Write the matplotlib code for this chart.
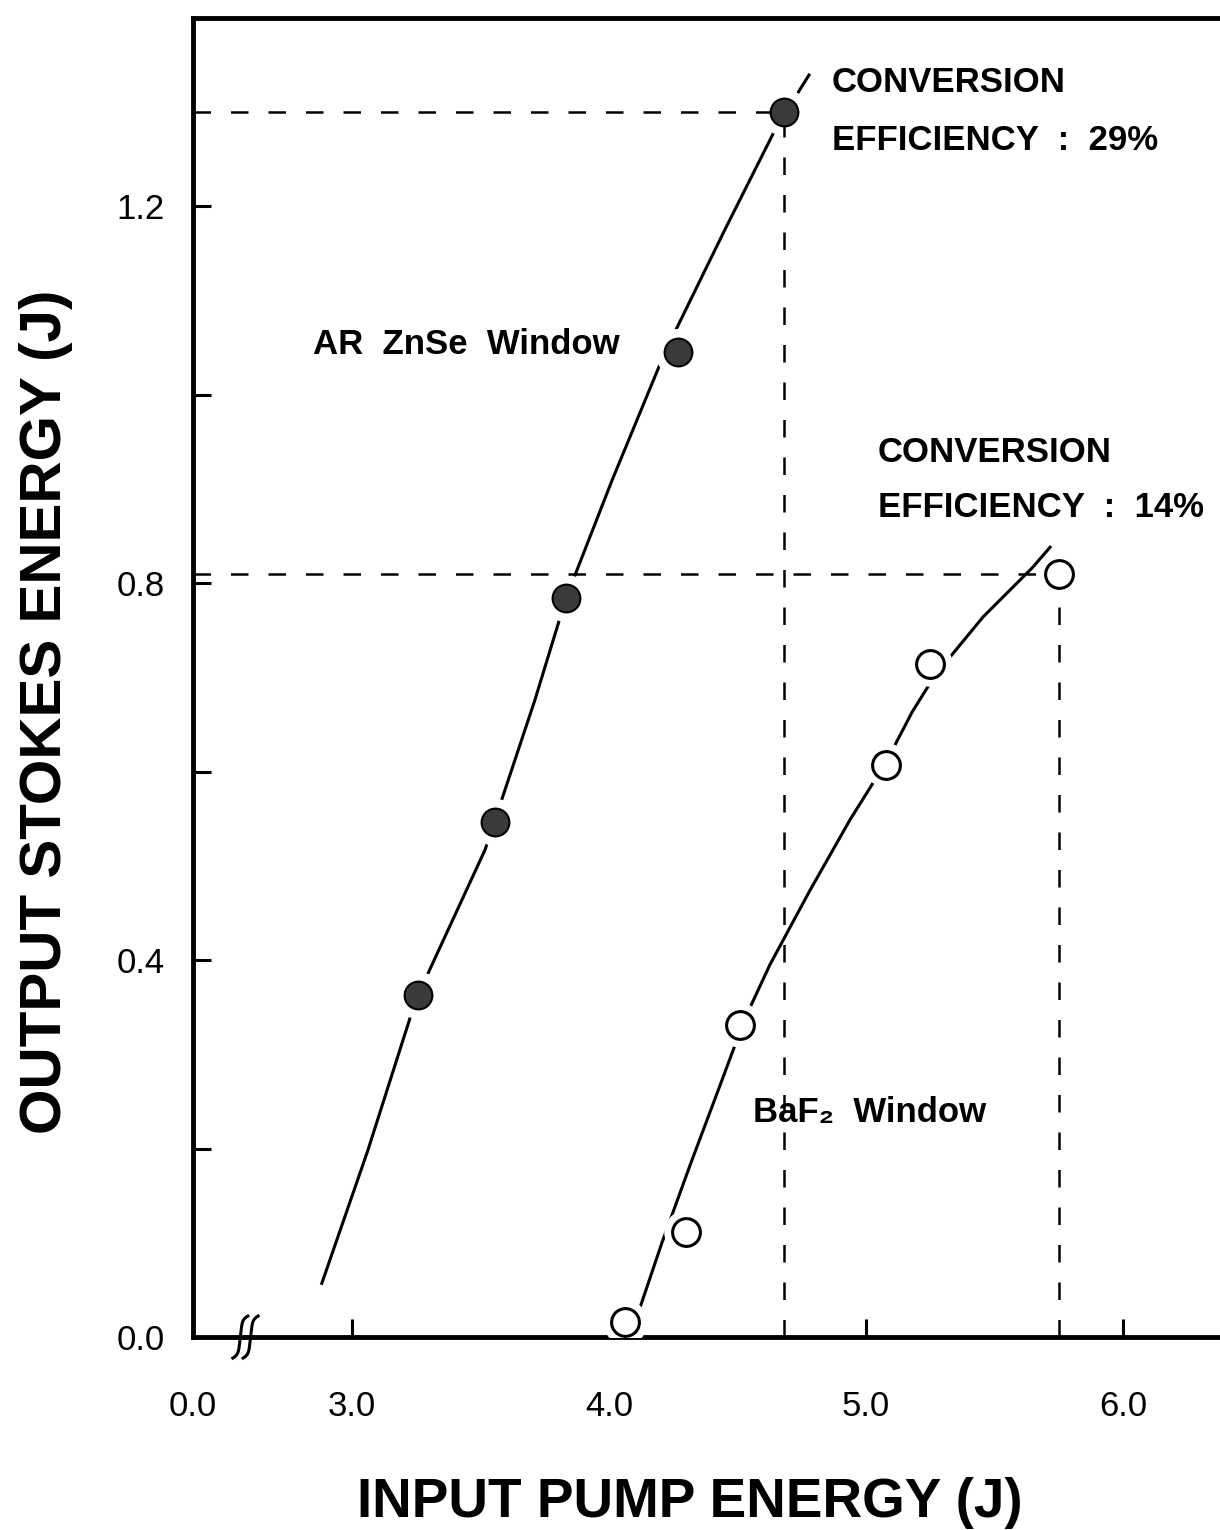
import numpy as np
import matplotlib.pyplot as plt

plt.rcParams['font.family'] = ['Liberation Sans', 'DejaVu Sans']

# measured points (J)
znse_in = [3.257, 3.556, 3.833, 4.268, 4.68]
znse_out = [0.363, 0.546, 0.784, 1.045, 1.30]
baf2_in = [4.062, 4.300, 4.510, 5.078, 5.249, 5.75]
baf2_out = [0.016, 0.111, 0.331, 0.607, 0.714, 0.81]

# hand-drawn fit curves
znse_fit_x = [2.883, 3.062, 3.249, 3.518, 3.712, 3.833, 4.012, 4.218, 4.451, 4.650, 4.778]
znse_fit_y = [0.057, 0.198, 0.358, 0.517, 0.676, 0.784, 0.909, 1.045, 1.175, 1.283, 1.339]
baf2_fit_x = [4.082, 4.206, 4.315, 4.432, 4.529, 4.626, 4.782, 4.938, 5.078, 5.179,
              5.268, 5.455, 5.646, 5.716]
baf2_fit_y = [0.000, 0.100, 0.182, 0.267, 0.338, 0.395, 0.474, 0.549, 0.610, 0.663,
              0.702, 0.764, 0.816, 0.838]

x_origin = 2.381   # axis is broken between 0 and ~2.6 J
x_ticks = [x_origin, 3.0, 4.0, 5.0, 6.0]
x_ticklabels = ['0.0', '3.0', '4.0', '5.0', '6.0']
y_ticks = [0.0, 0.2, 0.4, 0.6, 0.8, 1.0, 1.2]
y_ticklabels = ['0.0', '', '0.4', '', '0.8', '', '1.2']

fig = plt.figure(figsize=(12.2, 15.3), dpi=100)
ax = fig.add_axes([0.158, 0.1261, 0.842, 0.8621])
ax.set_xlim(x_origin, 6.377)
ax.set_ylim(0, 1.3995)

for s in ['left', 'top', 'bottom']:
    ax.spines[s].set_linewidth(3.5)
ax.spines['right'].set_visible(False)

# fit lines, broken around the markers by white discs
ax.plot(znse_fit_x, znse_fit_y, color='k', lw=2.2, zorder=2)
ax.plot(baf2_fit_x, baf2_fit_y, color='k', lw=2.2, zorder=2)
ax.plot(znse_in, znse_out, 'o', ms=34, mfc='white', mec='none', zorder=3)
ax.plot(baf2_in, baf2_out, 'o', ms=32, mfc='white', mec='none', zorder=3)

# guide lines to the top points
dash = (0, (7, 8))
for xs, ys in [(znse_in, znse_out), (baf2_in, baf2_out)]:
    ax.plot([x_origin, xs[-1]], [ys[-1], ys[-1]], color='k', lw=1.8, ls=dash, zorder=4)
    ax.plot([xs[-1], xs[-1]], [0, ys[-1]], color='k', lw=1.8, ls=dash, zorder=4)

ax.plot(znse_in, znse_out, 'o', ms=20, mfc='#3a3a3a', mec='k', mew=1.5, zorder=5)
ax.plot(baf2_in, baf2_out, 'o', ms=20, mfc='white', mec='k', mew=2.2, zorder=5)

ax.set_xticks(x_ticks)
ax.set_xticklabels(x_ticklabels)
ax.set_yticks(y_ticks)
ax.set_yticklabels(y_ticklabels)
ax.tick_params(direction='in', length=13, width=2.2, top=False, right=False)
ax.tick_params(axis='x', pad=38, labelsize=25)
ax.tick_params(axis='y', pad=20, labelsize=25)
ax.xaxis.get_major_ticks()[0].tick1line.set_visible(False)
ax.yaxis.get_major_ticks()[0].tick1line.set_visible(False)

# axis break mark
t = np.linspace(-1, 1, 40)
bx = (2.5 * t + 5 * t ** 7) / 257
by = 21 * t / 942.5
for off in [2.566, 2.606]:
    ax.plot(off + bx, by, color='k', lw=2.2, clip_on=False, zorder=6)

fig.text(0.5656, 0.0085, 'INPUT PUMP ENERGY (J)', fontsize=39.5, fontweight='bold',
         ha='center', va='baseline')
fig.text(0.0377, 0.5346, 'OUTPUT STOKES ENERGY (J)', fontsize=42, fontweight='bold',
         rotation=90, ha='center', va='center')

txt = dict(fontsize=25, fontweight='bold', va='baseline', ha='left')
ax.text(4.868, 1.321, 'CONVERSION', **txt)
ax.text(4.868, 1.259, 'EFFICIENCY  :  29%', **txt)
ax.text(5.047, 0.928, 'CONVERSION', **txt)
ax.text(5.047, 0.870, 'EFFICIENCY  :  14%', **txt)
ax.text(2.848, 1.043, 'AR  ZnSe  Window', **txt)
ax.text(4.560, 0.228, 'BaF₂  Window', **txt)

fig.savefig('out.png', dpi=100)
